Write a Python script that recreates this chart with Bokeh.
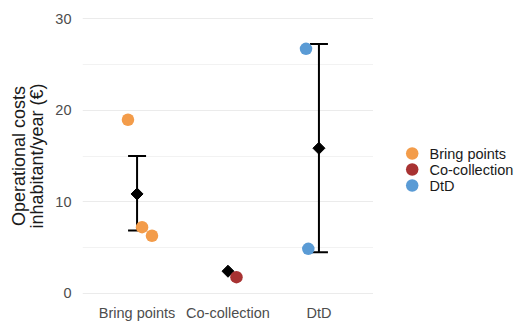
from bokeh.plotting import figure
from bokeh.layouts import row
from bokeh.models import (ColumnDataSource, FixedTicker, Whisker, TeeHead,
                          Range1d)
from bokeh.core.properties import value
from bokeh.embed import file_html
from bokeh.resources import INLINE

# ---- data ----
categories = ["Bring points", "Co-collection", "DtD"]
colors = ["#F39C4A", "#A83232", "#5A9BD5"]

point_category = ["Bring points", "Bring points", "Bring points",
                  "Co-collection", "DtD", "DtD"]
point_value = [18.96, 7.22, 6.28, 1.75, 26.72, 4.85]
point_jitter = [-0.10, 0.055, 0.164, 0.093, -0.142, -0.117]

mean_value = [10.85, 2.4, 15.85]
se_lower = [6.85, 2.4, 4.48]
se_upper = [15.0, 2.4, 27.25]

y_ticks = [0, 10, 20, 30]
y_minor = [5, 15, 25]

FONT = "Liberation Sans"
H = 329
TOP, BOTTOM = 10, 28

p = figure(width=373, height=H, output_backend="svg", toolbar_location=None,
           x_range=Range1d(0.4, 3.6), y_range=Range1d(-0.91, 30.91),
           min_border_left=82, min_border_right=0,
           min_border_top=TOP, min_border_bottom=BOTTOM)
p.outline_line_color = None
p.background_fill_color = "white"
p.border_fill_color = "white"

cat_pos = {c: i + 1 for i, c in enumerate(categories)}

# mean diamonds
p.scatter(x=[cat_pos[c] for c in categories], y=mean_value, marker="square",
          angle=0.785398, size=8.5, color="black")

# jittered points
pt_x = [cat_pos[pc] + j for pc, j in zip(point_category, point_jitter)]
pt_col = [colors[categories.index(pc)] for pc in point_category]
p.scatter(x=pt_x, y=point_value, marker="circle", size=12.5,
          fill_color=pt_col, line_color=None)

# error bars (mean +/- SE), only where there is a spread
wb = [cat_pos[c] for c, lo, up in zip(categories, se_lower, se_upper) if up > lo]
wl = [lo for lo, up in zip(se_lower, se_upper) if up > lo]
wu = [up for lo, up in zip(se_lower, se_upper) if up > lo]
wsrc = ColumnDataSource(dict(base=wb, lower=wl, upper=wu))
p.add_layout(Whisker(source=wsrc, base="base", lower="lower", upper="upper",
                     line_width=2, line_color="black",
                     upper_head=TeeHead(size=18, line_width=2, line_color="black"),
                     lower_head=TeeHead(size=18, line_width=2, line_color="black")))

# axes
p.xaxis.ticker = FixedTicker(ticks=[cat_pos[c] for c in categories])
p.xaxis.major_label_overrides = {cat_pos[c]: c for c in categories}
p.yaxis.ticker = FixedTicker(ticks=y_ticks, minor_ticks=y_minor)
for ax in (p.xaxis[0], p.yaxis[0]):
    ax.axis_line_color = None
    ax.major_tick_line_color = None
    ax.minor_tick_line_color = None
    ax.major_tick_out = 0
    ax.minor_tick_out = 0
    ax.major_label_text_font = FONT
    ax.major_label_text_font_size = "14.5px"
    ax.major_label_text_color = "#4d4d4d"
p.xaxis.major_label_standoff = 3
p.yaxis.major_label_standoff = 11
p.yaxis.axis_label = "Operational costs\ninhabitant/year (€)"
p.yaxis.axis_label_text_font = FONT
p.yaxis.axis_label_text_font_size = "18px"
p.yaxis.axis_label_text_line_height = 0.92
p.yaxis.axis_label_text_font_style = "normal"
p.yaxis.axis_label_text_color = "#1a1a1a"
p.yaxis.axis_label_standoff = 5

p.xgrid.grid_line_color = None
p.ygrid.grid_line_color = "#ebebeb"
p.ygrid.grid_line_width = 1
p.ygrid.minor_grid_line_color = "#f2f2f2"
p.ygrid.minor_grid_line_width = 1

# ---- legend drawn in a side figure (rows 16 px apart) ----
frame_h = H - TOP - BOTTOM
first_row = 153 - TOP  # px below the frame top
leg = figure(width=146, height=H, output_backend="svg", toolbar_location=None,
             x_range=Range1d(0, 146),
             y_range=Range1d((frame_h - first_row) / 16, -first_row / 16),
             min_border_left=0, min_border_right=0,
             min_border_top=TOP, min_border_bottom=BOTTOM,
             x_axis_type=None, y_axis_type=None)
leg.outline_line_color = None
leg.grid.grid_line_color = None
leg.background_fill_color = "white"
leg.border_fill_color = "white"
rows = list(range(len(categories)))
leg.scatter(x=[38.7] * len(rows), y=rows, marker="circle", size=12.5,
            fill_color=colors, line_color=None)
leg.text(x=[56] * len(rows), y=rows, text=categories, text_baseline="middle",
         text_align="left", text_font=value(FONT), text_font_size="14.5px",
         text_color="#1a1a1a")

open("out.html", "w").write(file_html(row(p, leg), INLINE))
